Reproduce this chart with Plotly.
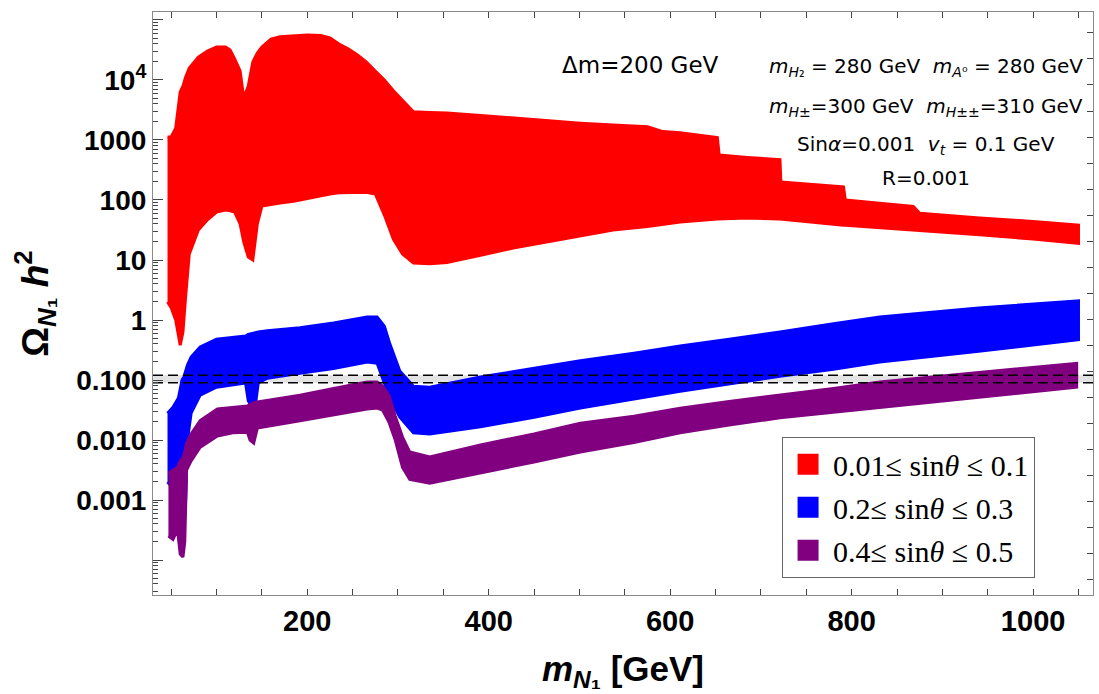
import plotly.graph_objects as go

# ---------------- data ----------------
# red band: 0.01 <= sin(theta) <= 0.1
red_mass = [46, 50, 55, 60, 63, 66, 70, 80, 90, 100, 110, 115, 120, 126, 130, 135, 140, 145, 150,
            160, 170, 185, 200, 215, 225, 235, 245, 255, 265, 275, 285, 295, 305, 317, 335, 354,
            391, 427, 464, 501, 537, 575, 592, 611, 652, 654, 685, 721, 722, 758, 791, 793, 831,
            868, 875, 941, 1000, 1050]
red_upper = [1120, 1120, 1580, 6300, 7900, 11200, 15800, 24000, 30200, 35500, 35500, 31600, 22400,
             14100, 5000, 7900, 20000, 28200, 35500, 47900, 52500, 55000, 56200, 55000, 50100,
             39800, 33100, 26300, 20000, 14100, 10000, 6600, 4570, 2950, 2880, 2820, 2570, 2340,
             2090, 1910, 1780, 1660, 1380, 1320, 1100, 560, 510, 470, 200, 182, 166, 100, 89, 78,
             60, 50, 44, 38]
red_lower = [2.0, 1.6, 1.0, 0.38, 0.63, 2.5, 12.6, 31.6, 46.8, 63, 68, 66, 63, 40, 20, 11.2, 10,
             40, 79, 85, 89, 95, 105, 117, 126, 132, 135, 135, 135, 126, 56, 22, 12.6, 8.9, 8.7,
             9.1, 12.0, 15.8, 20, 25, 31.6, 36, 39, 43, 48, 48, 50, 48, 48, 43, 38, 38, 35.5, 31.6,
             31, 26.3, 22.4, 19]

# blue band: 0.2 <= sin(theta) <= 0.3
blue_mass = [46, 52, 58, 62, 64, 66, 68, 72, 82, 100, 120, 132, 135, 139, 143, 146, 156, 192, 229,
             266, 277, 285, 291, 302, 317, 335, 391, 450, 501, 560, 611, 665, 721, 780, 831, 940,
             1050]
blue_upper = [0.028, 0.035, 0.05, 0.1, 0.112, 0.141, 0.178, 0.24, 0.355, 0.48, 0.52, 0.54, 0.575,
              0.6, 0.62, 0.63, 0.66, 0.74, 0.89, 1.12, 1.12, 0.79, 0.4, 0.141, 0.079, 0.076, 0.112,
              0.158, 0.209, 0.28, 0.37, 0.48, 0.63, 0.87, 1.12, 1.58, 2.09]
blue_lower = [0.002, 0.00158, 0.00178, 0.0005, 0.00045, 0.001, 0.01, 0.028, 0.056, 0.076, 0.083,
              0.089, 0.045, 0.035, 0.04, 0.089, 0.107, 0.129, 0.155, 0.2, 0.19, 0.089, 0.05, 0.024,
              0.0132, 0.0126, 0.0166, 0.024, 0.034, 0.048, 0.065, 0.087, 0.115, 0.151, 0.2, 0.3,
              0.47]

# purple band: 0.4 <= sin(theta) <= 0.5
purple_mass = [47, 52, 57, 60, 63, 65, 67, 72, 82, 101, 118, 134, 137, 141, 145, 192, 229, 266,
               277, 283, 290, 297, 305, 313, 335, 391, 450, 501, 560, 611, 665, 721, 780, 831,
               940, 1048]
purple_upper = [0.0028, 0.00316, 0.0035, 0.0045, 0.005, 0.0063, 0.0089, 0.0126, 0.021, 0.033,
                0.035, 0.037, 0.039, 0.042, 0.043, 0.056, 0.072, 0.093, 0.093, 0.079, 0.056,
                0.025, 0.0112, 0.0063, 0.0052, 0.0083, 0.0126, 0.019, 0.025, 0.034, 0.044, 0.056,
                0.072, 0.093, 0.132, 0.19]
purple_lower = [0.00025, 0.00022, 0.00032, 0.000126, 0.000112, 0.0002, 0.00316, 0.0045, 0.0076,
                0.0117, 0.0132, 0.0135, 0.01, 0.0089, 0.0158, 0.021, 0.026, 0.033, 0.034, 0.0316,
                0.02, 0.01, 0.0035, 0.0022, 0.0019, 0.0028, 0.0043, 0.0063, 0.0091, 0.0132,
                0.0178, 0.0234, 0.029, 0.035, 0.052, 0.076]

relic_band = [0.09, 0.12]          # observed relic density band (dashed lines)
x_range = [30, 1066]

series_names = ["0.01≤ sin<i>θ</i> ≤ 0.1", "0.2≤ sin<i>θ</i> ≤ 0.3", "0.4≤ sin<i>θ</i> ≤ 0.5"]
series_colors = ["#ff0000", "#0000ff", "#800080"]

y_tick_vals = [1e-4, 1e-3, 1e-2, 1e-1, 1, 10, 100, 1000, 1e4, 1e5]
y_tick_text = ["", "0.001", "0.010", "0.100", "1", "10", "100", "1000", "10<sup>4</sup>", ""]
x_tick_vals = [200, 400, 600, 800, 1000]

# ---------------- figure ----------------
fig = go.Figure()

# light gray relic band
fig.add_trace(go.Scatter(
    x=[x_range[0], x_range[1], x_range[1], x_range[0]],
    y=[relic_band[0], relic_band[0], relic_band[1], relic_band[1]],
    fill="toself", fillcolor="#e3e3e3", line=dict(width=0), mode="lines",
    showlegend=False, hoverinfo="skip"))

bands = [(red_mass, red_upper, red_lower), (blue_mass, blue_upper, blue_lower),
         (purple_mass, purple_upper, purple_lower)]
for (xs, up, lo), color in zip(bands, series_colors):
    fig.add_trace(go.Scatter(
        x=list(xs) + list(xs)[::-1], y=list(up) + list(lo)[::-1],
        fill="toself", fillcolor=color, mode="lines",
        line=dict(color=color, width=3), showlegend=False, hoverinfo="skip"))

# dashed relic-density lines
for val in relic_band:
    fig.add_trace(go.Scatter(
        x=x_range, y=[val, val], mode="lines",
        line=dict(color="black", width=1.6, dash="10px,5px"),
        showlegend=False, hoverinfo="skip"))

# legend entries
for i, (name, color) in enumerate(zip(series_names, series_colors)):
    fig.add_trace(go.Scatter(
        x=[None], y=[None], mode="markers", name=name, legendgroup=str(i),
        marker=dict(symbol="square", size=16, color=color, line=dict(color=color, width=5))))

# invisible trace to anchor the right-hand frame axis
fig.add_trace(go.Scatter(x=[None], y=[None], yaxis="y2", showlegend=False, hoverinfo="skip"))

minor_y = [m * 10 ** d for d in range(-5, 6) for m in range(2, 10)]

frame_color = "#8a8a8a"
tick_color = "#444444"
fig.update_layout(
    width=1099, height=694,
    margin=dict(l=153, r=6, t=12, b=99),
    paper_bgcolor="white", plot_bgcolor="white",
    showlegend=True,
    legend=dict(x=0.669, y=0.271, xanchor="left", yanchor="top",
                bgcolor="white", bordercolor="#666666", borderwidth=1.2,
                font=dict(family="Liberation Serif", size=30, color="black"),
                tracegroupgap=1, itemwidth=40),
    xaxis=dict(range=x_range, tickvals=x_tick_vals, ticks="inside", ticklen=6,
               tickcolor=tick_color, showline=True, linecolor=frame_color, linewidth=1.2,
               mirror="ticks", showgrid=False, zeroline=False,
               minor=dict(ticks="inside", ticklen=6, dtick=50, tick0=0, tickcolor=tick_color),
               tickfont=dict(family="Liberation Sans", size=29, color="black", weight="bold"),
               title=dict(text="<i>m</i><sub><i>N</i>₁</sub> [GeV]", standoff=20,
                          font=dict(family="Liberation Sans", size=35, color="black", weight="bold"))),
    yaxis=dict(type="log", range=[-4.583, 5.133], tickvals=y_tick_vals, ticktext=y_tick_text,
               ticks="inside", ticklen=10, tickcolor=tick_color, showline=True,
               linecolor=frame_color, linewidth=1.2, showgrid=False, zeroline=False,
               minor=dict(ticks="inside", ticklen=5, tickvals=minor_y, tickcolor=tick_color),
               tickfont=dict(family="Liberation Sans", size=28, color="black", weight="bold"),
               title=dict(text="Ω<sub><i>N</i>₁</sub> <i>h</i><sup>2</sup>", standoff=16,
                          font=dict(family="Liberation Sans", size=37, color="black", weight="bold"))),
    yaxis2=dict(overlaying="y", side="right", range=[-0.576, 21.80], dtick=1, tick0=0,
                ticks="inside", ticklen=6, tickcolor=tick_color, showticklabels=False,
                showline=True, linecolor=frame_color, linewidth=1.2, showgrid=False,
                zeroline=False),
)

# text annotations
def px_to_paper_y(py):
    return (595 - py) / 583

def px_to_paper_x(px):
    return (px - 153) / 940

nb = "\u00a0"
fig.add_annotation(x=px_to_paper_x(640), y=px_to_paper_y(65), xref="paper", yref="paper",
                   xanchor="center", yanchor="middle",
                   text="Δm=200 GeV", showarrow=False,
                   font=dict(family="DejaVu Sans", size=23, color="black"))
info_lines = [
    ("<i>m</i><sub><i>H</i>₂</sub> = 280 GeV" + nb * 2 + "<i>m</i><sub><i>A</i>⁰</sub> = 280 GeV", 67),
    ("<i>m</i><sub><i>H</i>±</sub>=300 GeV" + nb * 2 + "<i>m</i><sub><i>H</i>±±</sub>=310 GeV", 107),
    ("Sin<i>α</i>=0.001" + nb * 2 + "<i>v</i><sub><i>t</i></sub> = 0.1 GeV", 145),
    ("R=0.001", 178),
]
for txt, py in info_lines:
    fig.add_annotation(x=px_to_paper_x(926), y=px_to_paper_y(py), xref="paper", yref="paper",
                       xanchor="center", yanchor="middle",
                       text=txt, showarrow=False,
                       font=dict(family="DejaVu Sans", size=20, color="black"))

fig.write_html("out.html", config={"displayModeBar": False},
               post_script="document.body.style.margin='0';")
